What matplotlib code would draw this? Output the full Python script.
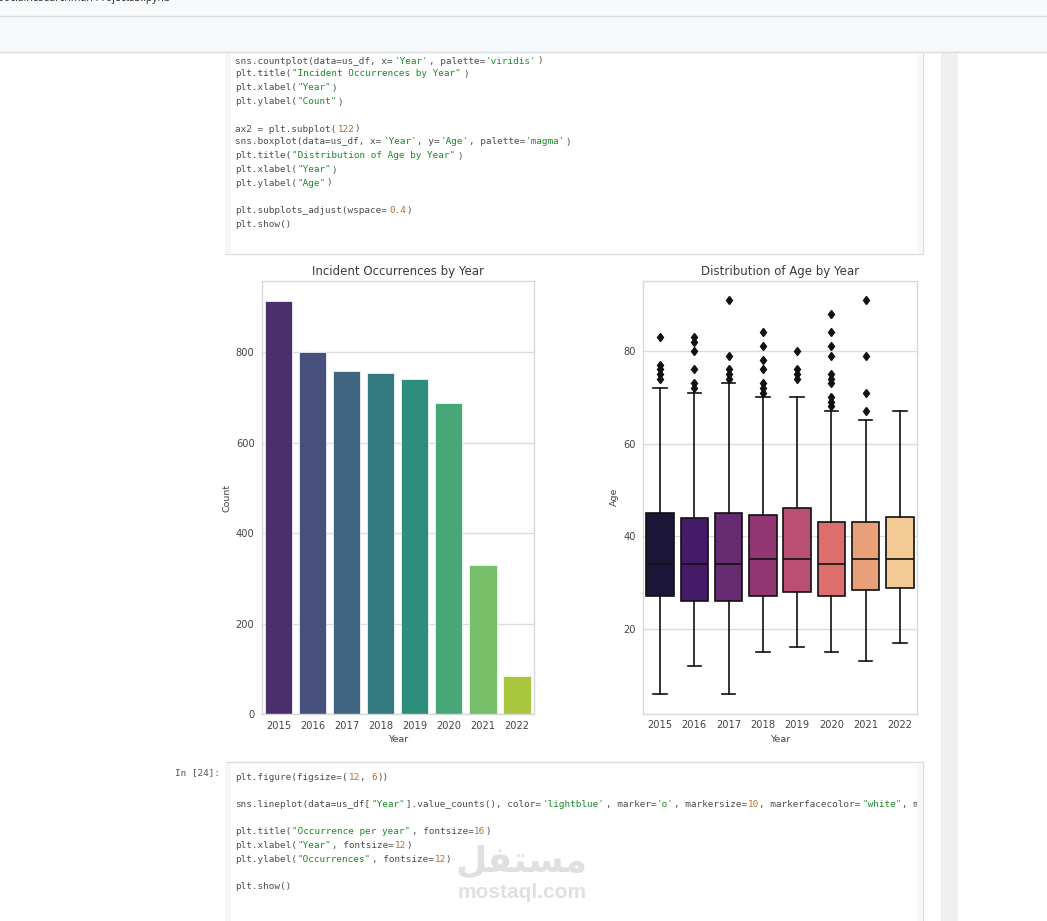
import re
import matplotlib
matplotlib.use("Agg")
import matplotlib.pyplot as plt
from matplotlib.patches import Rectangle

W, H = 1047, 921

years = ["2015", "2016", "2017", "2018", "2019", "2020", "2021", "2022"]
counts = [913, 801, 758, 755, 741, 687, 330, 84]
bar_colors = ["#4b2f6d", "#48507e", "#3f6580", "#347880", "#2d8e7d", "#46a876", "#78bf69", "#a9c63f"]

age_low = [6, 12, 6, 15, 16, 15, 13, 17]
age_q1 = [27, 26, 26, 27, 28, 27, 28.3, 28.7]
age_med = [34, 34, 34, 35, 35, 34, 35, 35]
age_q3 = [45, 44, 45, 44.5, 46, 43, 43, 44.2]
age_high = [72, 71, 73, 70, 70, 67, 65, 67]
age_fliers = [
    [74, 75, 76, 77, 83],
    [72, 73, 76, 80, 82, 83],
    [74, 75, 76, 79, 91],
    [71, 72, 73, 76, 78, 81, 84],
    [74, 75, 76, 80],
    [68, 69, 70, 73, 74, 75, 79, 81, 84, 88],
    [67, 71, 79, 91],
    [],
]
box_colors = ["#1c1639", "#451a68", "#672b71", "#913672", "#b94f72", "#dd6e6e", "#e8a078", "#f3c995"]

code_top = [
    "sns.countplot(data=us_df, x='Year', palette='viridis')",
    'plt.title("Incident Occurrences by Year")',
    'plt.xlabel("Year")',
    'plt.ylabel("Count")',
    "",
    "ax2 = plt.subplot(122)",
    "sns.boxplot(data=us_df, x='Year', y='Age', palette='magma')",
    'plt.title("Distribution of Age by Year")',
    'plt.xlabel("Year")',
    'plt.ylabel("Age")',
    "",
    "plt.subplots_adjust(wspace=0.4)",
    "plt.show()",
]
code_top_y = [61, 74, 88, 102, None, 129, 142, 156, 170, 183, None, 210, 224]

code_bottom = [
    "plt.figure(figsize=(12, 6))",
    """sns.lineplot(data=us_df["Year"].value_counts(), color='lightblue', marker='o', markersize=10, markerfacecolor="white", m""",
    'plt.title("Occurrence per year", fontsize=16)',
    'plt.xlabel("Year", fontsize=12)',
    'plt.ylabel("Occurrences", fontsize=12)',
    "plt.show()",
]
code_bottom_y = [777, 804, 831, 845, 859, 886]


def px_axes(fig, left, top, right, bottom):
    return fig.add_axes([left / W, 1 - bottom / H, (right - left) / W, (bottom - top) / H])


def draw_code(back, lines, ys, x=235):
    # colour strings and numbers the way the notebook does, one text per colour run
    size = 6.76
    cw = 5.7
    for line, y in zip(lines, ys):
        if y is None:
            continue
        runs = []
        for m in re.finditer(r"""'[^']*'|"[^"]*"|(?<![\w.])\d+\.?\d*|[A-Za-z_]\w*|.""", line):
            tok = m.group(0)
            if tok[0] in "'\"":
                col = "#1a8a2a"
            elif tok[0].isdigit():
                col = "#b5702a"
            else:
                col = "#4d4d4d"
            if runs and runs[-1][2] == col:
                runs[-1][1] += tok
            else:
                runs.append([m.start(), tok, col])
        for start, tok, col in runs:
            back.text(x + start * cw, y, tok, color=col, fontsize=size, family="DejaVu Sans Mono", va="center", ha="left")


def style_axes(ax):
    ax.set_facecolor("white")
    ax.set_axisbelow(True)
    ax.grid(axis="y", color="#dcdcdc", linewidth=1)
    ax.tick_params(length=0, labelsize=7.1, labelcolor="#444444", pad=5)
    for s in ax.spines.values():
        s.set_color("#d8d8d8")
        s.set_linewidth(1)


fig = plt.figure(figsize=(W / 100, H / 100), dpi=100, facecolor="white")

# page background in pixel coordinates
back = fig.add_axes([0, 0, 1, 1])
back.set_xlim(0, W)
back.set_ylim(H, 0)
back.axis("off")
back.add_patch(Rectangle((0, 0), W, 16, color="#f8f9fa", lw=0))
back.plot([0, W], [16.5, 16.5], color="#d5dde5", lw=1)
back.add_patch(Rectangle((941, 53), 17, H - 53, color="#f0f0f0", lw=0))

# code cells
back.add_patch(Rectangle((225.5, 40), 697, 214, fc="white", ec="#dddddd", lw=1, zorder=0.5))
back.add_patch(Rectangle((226, 53), 5, 200, color="#f5f5f5", lw=0))
back.add_patch(Rectangle((917, 53), 5, 200, color="#f8f8f8", lw=0))
back.add_patch(Rectangle((225.5, 762), 697, 175, fc="white", ec="#dddddd", lw=1))
back.add_patch(Rectangle((226, 763), 5, 158, color="#f5f5f5", lw=0))
back.add_patch(Rectangle((0, 17), W, 35, color="#f6f8fa", lw=0, zorder=1))
back.plot([0, W], [52.5, 52.5], color="#d5dde5", lw=1, zorder=2)

back.text(-2, -1, "SocialResearchman Projects3.ipynb", fontsize=7.5, color="#222222", family="Open Sans", va="center")
back.text(175, 773, "In [24]:", fontsize=6.76, color="#555555", family="DejaVu Sans Mono", va="center")
draw_code(back, code_top, code_top_y)
draw_code(back, code_bottom, code_bottom_y)

# right gutter of the lower cell hides the end of the long line
back.add_patch(Rectangle((917, 763), 5, 158, color="#f8f8f8", lw=0, zorder=5))

# watermark, letters given in display order
back.text(522, 861, "\ufede\ufed4\ufe98\ufeb4\ufee3", fontsize=26, fontweight="bold", family="DejaVu Sans", color="#e0e0e0", ha="center", va="center", zorder=6)
back.text(522, 892, "mostaql.com", fontsize=15, fontweight="bold", family="Liberation Sans", color="#e0e0e0", ha="center", va="center", zorder=6)

ax1 = px_axes(fig, 261.5, 281, 534, 714)
ax1.bar(years, counts, width=0.8, color=bar_colors, edgecolor="white", linewidth=0.5, zorder=2)
ax1.set_xlim(-0.5, 7.5)
ax1.set_ylim(0, 958)
ax1.set_yticks([0, 200, 400, 600, 800])
style_axes(ax1)
ax1.set_title("Incident Occurrences by Year", fontsize=8.45, color="#3a3a3a", pad=4.5)
ax1.set_xlabel("Year", fontsize=6.8, color="#444444", labelpad=3)
ax1.set_ylabel("Count", fontsize=6.8, color="#444444", labelpad=3)

ax2 = px_axes(fig, 643, 281, 917, 713.5)
stats = [
    {"label": y, "whislo": lo, "q1": q1, "med": m, "q3": q3, "whishi": hi, "fliers": f}
    for y, lo, q1, m, q3, hi, f in zip(years, age_low, age_q1, age_med, age_q3, age_high, age_fliers)
]
line = {"color": "#111111", "linewidth": 1.2}
res = ax2.bxp(
    stats, positions=range(len(years)), widths=0.8, patch_artist=True,
    boxprops={"edgecolor": "#111111", "linewidth": 1.2},
    medianprops=line, whiskerprops=line, capprops=line,
    flierprops={"marker": "d", "markerfacecolor": "#111111", "markeredgecolor": "#111111", "markersize": 4.5},
    zorder=2,
)
for patch, col in zip(res["boxes"], box_colors):
    patch.set_facecolor(col)
ax2.set_xlim(-0.5, 7.5)
ax2.set_ylim(1.7, 95.1)
ax2.set_yticks([20, 40, 60, 80])
style_axes(ax2)
ax2.set_title("Distribution of Age by Year", fontsize=8.45, color="#3a3a3a", pad=4.5)
ax2.set_xlabel("Year", fontsize=6.8, color="#444444", labelpad=3)
ax2.set_ylabel("Age", fontsize=6.8, color="#444444", labelpad=3)

fig.savefig("out.png", dpi=100)
